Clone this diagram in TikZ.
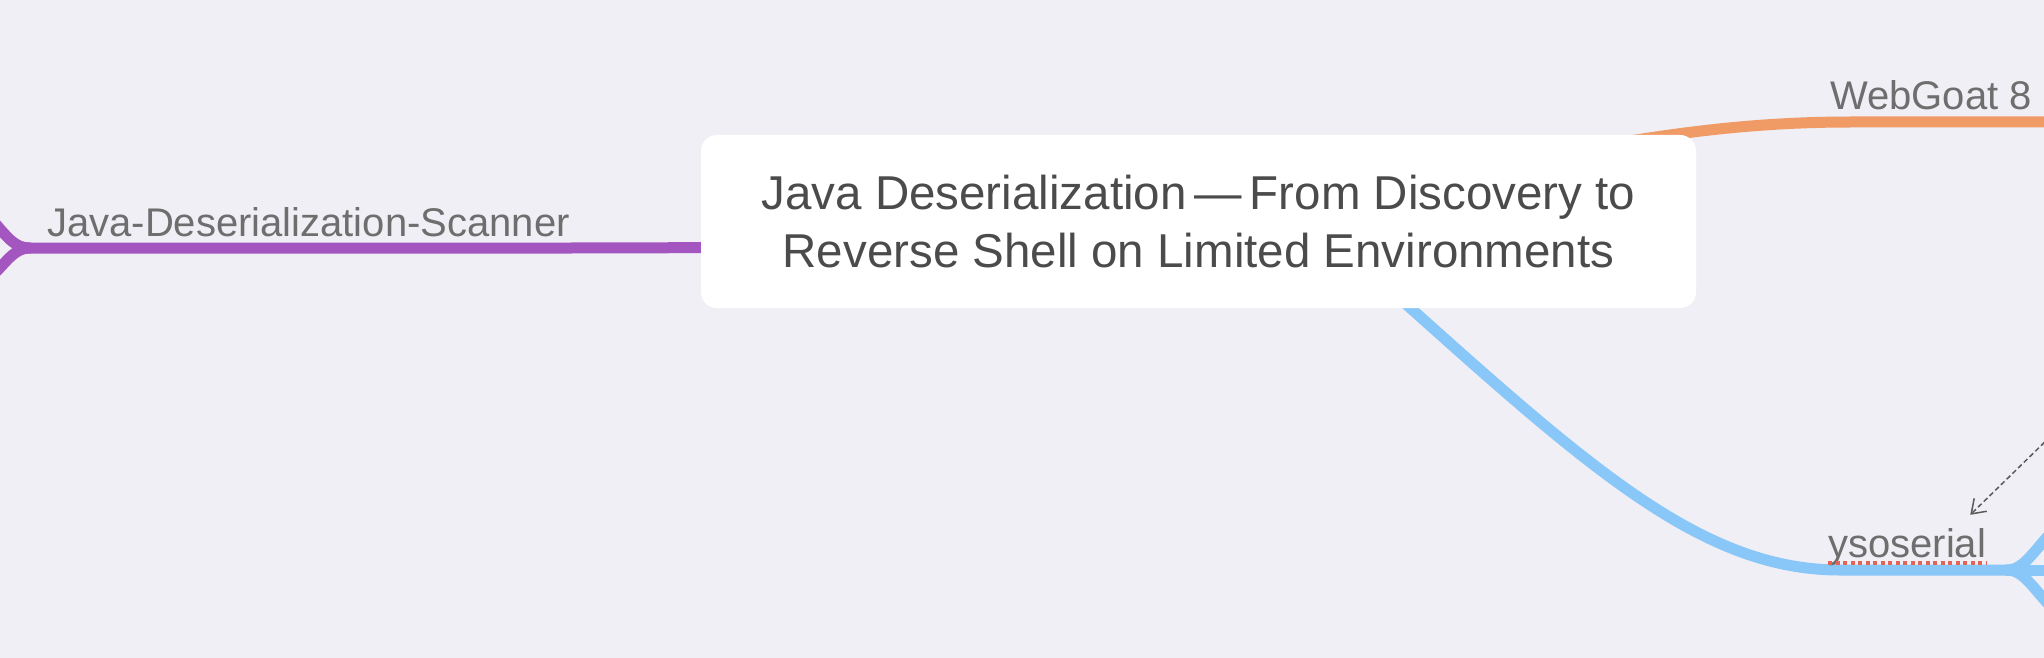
\documentclass[tikz,border=0pt]{standalone}
\usepackage{fontspec}
\setmainfont{Liberation Sans}
\usetikzlibrary{arrows.meta,backgrounds}

\definecolor{canvas}{RGB}{239,239,245}
\definecolor{scannerpurple}{RGB}{164,86,192}
\definecolor{goatorange}{RGB}{240,154,101}
\definecolor{ysoblue}{RGB}{137,199,248}
\definecolor{titlegray}{RGB}{75,75,75}
\definecolor{labelgray}{RGB}{110,110,110}
\definecolor{linkgray}{RGB}{90,90,90}
\definecolor{spellred}{RGB}{226,100,88}

\begin{document}
\begin{tikzpicture}[x=1pt, y=-1pt,
    branch/.style={line width=11pt, line cap=round},
    leaf/.style={anchor=base west, inner sep=0pt, text=labelgray, font=\fontsize{40}{48}\selectfont},
    topic/.style={fill=white, rounded corners=16pt, minimum width=995pt, minimum height=173pt,
                  inner sep=0pt, align=center, text=titlegray, font=\fontsize{47.5}{58}\selectfont}]
    \useasboundingbox (0,0) rectangle (2044,658);

    % central topic
    \node[topic] (root) at (1198.5,221.5) {Java Deserialization\,—\,From Discovery to\\Reverse Shell on Limited Environments};

    % branch labels
    \node[leaf] (scanner) at (47,236) {Java-Deserialization-Scanner};
    \node[leaf] (webgoat) at (1830,110) {WebGoat 8};
    \node[leaf] (yso) at (1828,557) {ysoserial};

    % free ends of the branches
    \coordinate (scannerfork) at (30,248);
    \coordinate (scannerup) at (-6,222);
    \coordinate (scannerdown) at (-6,274);
    \coordinate (goatend) at (2060,122);
    \coordinate (ysofork) at (2007,570);
    \coordinate (ysoup) at (2056,528);
    \coordinate (ysomid) at (2060,570);
    \coordinate (ysodown) at (2056,612);
    \coordinate (hint) at (2056,431);

    \begin{pgfonlayer}{background}
    \fill[canvas] (0,0) rectangle (2044,658);
    \clip (0,0) rectangle (2044,658);
    % purple branch
    \draw[branch, scannerpurple] (root.center) .. controls (900,246) and (800,248) .. (560,248) -- (scannerfork);
    \draw[branch, scannerpurple] (scannerfork) .. controls (15,248) and (8,238) .. (scannerup);
    \draw[branch, scannerpurple] (scannerfork) .. controls (15,248) and (8,260) .. (scannerdown);
    % orange branch
    \draw[branch, goatorange] (root.center) .. controls (1520,165) and (1660,122) .. (1850,122) -- (goatend);
    % blue branch
    \draw[branch, ysoblue] (root.center) -- (1340,245) .. controls (1570,450) and (1690,570) .. (1840,570) -- (ysofork);
    \draw[branch, ysoblue] (ysofork) .. controls (2025,570) and (2035,548) .. (ysoup);
    \draw[branch, ysoblue] (ysofork) -- (ysomid);
    \draw[branch, ysoblue] (ysofork) .. controls (2025,570) and (2035,592) .. (ysodown);
    \end{pgfonlayer}

    % spelling mark and link
    \draw[spellred, line width=4pt, dash pattern=on 4pt off 3.5pt] ([yshift=-6pt]yso.base west) -- ([yshift=-6pt]yso.base east);
    \draw[linkgray, line width=1.5pt, dash pattern=on 5pt off 3pt, -{Straight Barb[length=13pt, width=18pt]}] (hint) -- ([xshift=-16pt, yshift=13pt]yso.north east);
\end{tikzpicture}
\end{document}
